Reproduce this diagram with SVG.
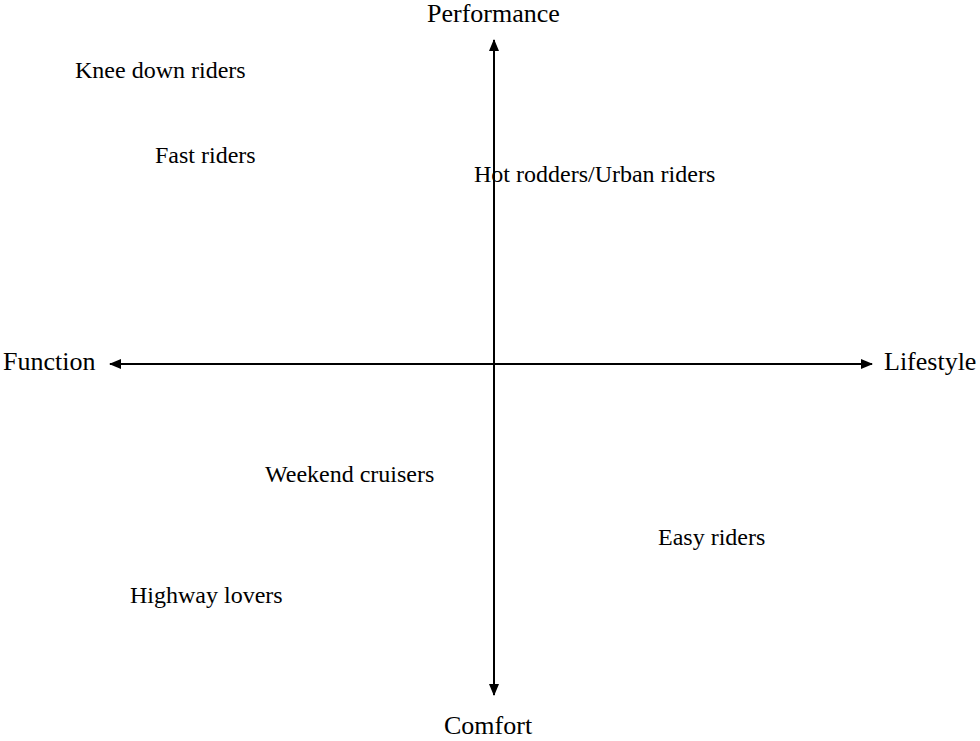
<svg xmlns="http://www.w3.org/2000/svg" width="980" height="741" viewBox="0 0 980 741">
<style>
text{font-family:"Liberation Serif","Times New Roman",serif;fill:#000}
.ax{font-size:26px}
.lb{font-size:24px}
.line{stroke:#000;stroke-width:2;fill:none}
</style>
<defs>
<marker id="ah" viewBox="0 0 12 10" refX="11" refY="5" markerWidth="12" markerHeight="10" markerUnits="userSpaceOnUse" orient="auto-start-reverse">
<path d="M0,0 L12,5 L0,10 Z" fill="#000"/>
</marker>
</defs>
<rect width="980" height="741" fill="#fff"/>
<g id="connectors">
<line class="line" x1="494" y1="40" x2="494" y2="695" marker-start="url(#ah)" marker-end="url(#ah)"/>
<line class="line" x1="110" y1="364" x2="872" y2="364" marker-start="url(#ah)" marker-end="url(#ah)"/>
</g>
<g id="performance"><text class="ax" x="427" y="22">Performance</text></g>
<g id="function"><text class="ax" x="3" y="370">Function</text></g>
<g id="lifestyle"><text class="ax" x="884" y="370">Lifestyle</text></g>
<g id="comfort"><text class="ax" x="444" y="734">Comfort</text></g>
<g id="knee"><text class="lb" x="75" y="78">Knee down riders</text></g>
<g id="fast"><text class="lb" x="155" y="163">Fast riders</text></g>
<g id="hot"><text class="lb" x="474" y="182">Hot rodders/Urban riders</text></g>
<g id="weekend"><text class="lb" x="265" y="482">Weekend cruisers</text></g>
<g id="easy"><text class="lb" x="658" y="545">Easy riders</text></g>
<g id="highway"><text class="lb" x="130" y="603">Highway lovers</text></g>
</svg>
